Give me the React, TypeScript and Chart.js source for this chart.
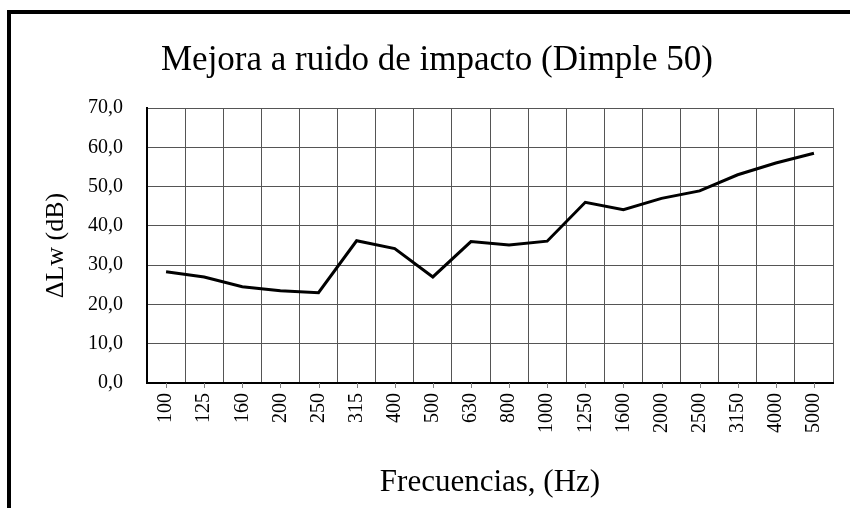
import React, { useEffect, useRef } from "react";
import { Chart, registerables } from "chart.js";

Chart.register(...registerables);

const chartTitle = "Mejora a ruido de impacto (Dimple 50)";
const xAxisTitle = "Frecuencias, (Hz)";
const yAxisTitle = "ΔLw (dB)";
const frequencies = ["100", "125", "160", "200", "250", "315", "400", "500", "630", "800", "1000", "1250", "1600", "2000", "2500", "3150", "4000", "5000"];
const improvementDb = [28.3, 27.0, 24.5, 23.5, 23.0, 36.2, 34.2, 27.0, 36.0, 35.1, 36.1, 46.0, 44.1, 47.0, 48.9, 53.0, 56.0, 58.5];
const yMin = 0;
const yMax = 70;
const yStep = 10;

const FONT = "'Liberation Serif', serif";

const centerTicks = {
  id: "centerTicks",
  afterDraw(chart: any) {
    const x = chart.scales.x;
    const ctx = chart.ctx;
    ctx.save();
    ctx.strokeStyle = "#7f7f7f";
    ctx.lineWidth = 1;
    for (let i = 0; i < frequencies.length; i++) {
      const px = Math.round(x.getPixelForValue(i)) + 0.5;
      ctx.beginPath();
      ctx.moveTo(px, x.top);
      ctx.lineTo(px, x.top + 5);
      ctx.stroke();
    }
    ctx.restore();
  },
};

export default function App() {
  const ref = useRef<HTMLCanvasElement>(null);
  useEffect(() => {
    if (!ref.current) return;
    const chart = new Chart(ref.current, {
      type: "line",
      data: {
        labels: frequencies,
        datasets: [
          {
            data: improvementDb,
            borderColor: "#000",
            borderWidth: 3,
            pointRadius: 0,
            tension: 0,
            fill: false,
          },
        ],
      },
      options: {
        responsive: false,
        animation: false,
        layout: { padding: { left: 41, right: 17, top: 0, bottom: 0 } },
        plugins: {
          legend: { display: false },
          tooltip: { enabled: false },
          title: {
            display: true,
            text: chartTitle,
            color: "#000",
            font: { family: FONT, size: 35, weight: "normal" },
            padding: { top: 40, bottom: 26 },
          },
        },
        scales: {
          x: {
            offset: true,
            grid: { offset: true, color: "#555", lineWidth: 1, drawTicks: false },
            border: { color: "#000", width: 2 },
            ticks: {
              autoSkip: false,
              minRotation: 90,
              maxRotation: 90,
              padding: 10,
              color: "#000",
              font: { family: FONT, size: 20 },
            },
            title: {
              display: true,
              text: xAxisTitle,
              color: "#000",
              font: { family: FONT, size: 31 },
              padding: { top: 0, bottom: 7 },
            },
            afterFit(scale: any) {
              scale.height = 125;
            },
          },
          y: {
            min: yMin,
            max: yMax,
            grid: { color: "#555", lineWidth: 1, drawTicks: false },
            border: { color: "#000", width: 2 },
            ticks: {
              stepSize: yStep,
              padding: 24,
              color: "#000",
              font: { family: FONT, size: 20 },
              callback: (v: any) => Number(v).toFixed(1).replace(".", ","),
            },
            title: {
              display: true,
              text: yAxisTitle,
              color: "#000",
              font: { family: FONT, size: 26 },
              padding: { top: 0, bottom: 0 },
            },
            afterFit(scale: any) {
              scale.width = 106;
            },
          },
        },
      },
      plugins: [centerTicks],
    });
    return () => chart.destroy();
  }, []);

  return (
    <div style={{ position: "fixed", left: 0, top: 0, width: 850, height: 508, background: "#fff", overflow: "hidden" }}>
      <div
        style={{
          position: "absolute",
          left: 7,
          top: 10,
          width: 900,
          height: 600,
          borderLeft: "4px solid #000",
          borderTop: "4px solid #000",
        }}
      />
      <canvas ref={ref} width={850} height={508} style={{ position: "absolute", left: 0, top: 0, width: 850, height: 508 }} />
    </div>
  );
}
